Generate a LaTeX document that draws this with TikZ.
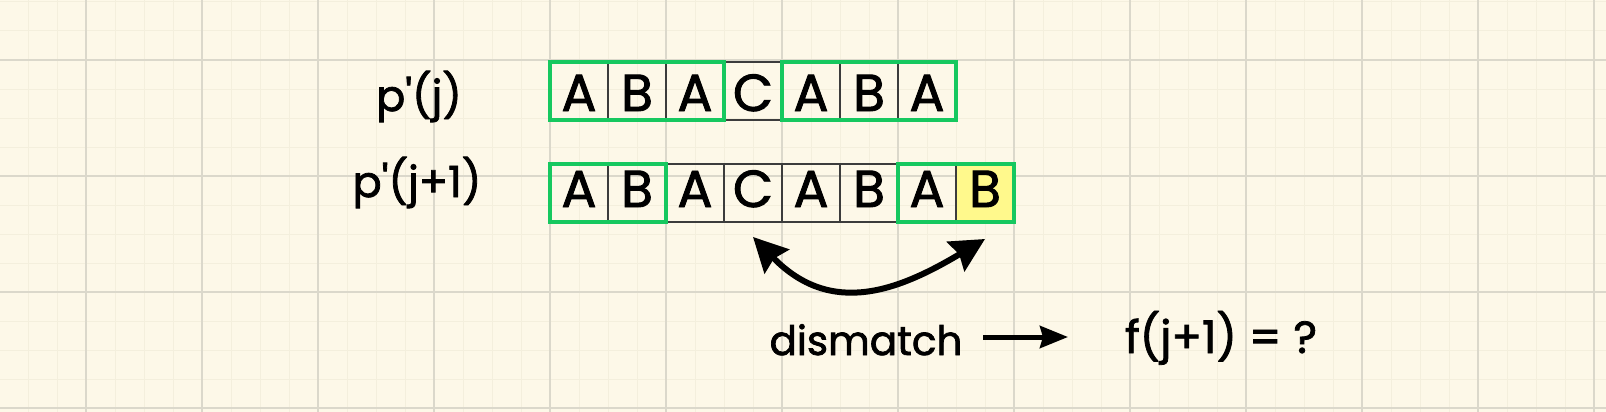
\documentclass[tikz,border=0pt]{standalone}
\usepackage{fontspec}
\setmainfont{Poppins}[FakeBold=1.8]
\usetikzlibrary{arrows.meta}
\definecolor{bgc}{RGB}{253,248,232}
\definecolor{majc}{RGB}{219,216,203}
\definecolor{minc}{RGB}{244,239,221}
\definecolor{grn}{RGB}{22,200,95}
\definecolor{cellc}{RGB}{60,60,60}
\definecolor{ylw}{RGB}{255,249,140}
\tikzset{
  cellbox/.style={draw=cellc,line width=2pt},
  grnbox/.style={draw=grn,line width=4.5pt},
  celltxt/.style={anchor=base,inner sep=0pt,font=\fontsize{52}{60}\selectfont},
  lbltxt/.style={anchor=base,inner sep=0pt,font=\fontsize{43}{50}\selectfont},
  dmtxt/.style={anchor=base,inner sep=0pt,font=\fontsize{40.5}{48}\selectfont},
  fqtxt/.style={anchor=base,inner sep=0pt,font=\fontsize{45}{52}\selectfont},
  arr/.style={line width=5pt,-{Stealth[length=28pt,width=22pt,inset=3pt]}},
  dblarr/.style={line width=6pt,{Stealth[length=34pt,width=34pt,inset=4pt]}-{Stealth[length=34pt,width=34pt,inset=4pt]}},
}
\begin{document}
\begin{tikzpicture}[x=1pt,y=-1pt]
\useasboundingbox (0,0) rectangle (1606,412);
\fill[bgc] (0,0) rectangle (1606,412);
% minor grid
\foreach \i in {0,...,55} {\draw[minc,line width=1pt] ({28+29*\i},0) -- ({28+29*\i},412);}
\foreach \i in {0,...,14} {\draw[minc,line width=1pt] (0,{2+29*\i}) -- (1606,{2+29*\i});}
% major grid
\foreach \i in {0,...,13} {\draw[majc,line width=1.3pt] ({86+116*\i},0) -- ({86+116*\i},412);}
\foreach \i in {0,...,3} {\draw[majc,line width=1.3pt] (0,{60+116*\i}) -- (1606,{60+116*\i});}
% labels
\node[lbltxt] (l1) at (419,111) {p\textquotesingle(j)};
\node[lbltxt] (l2) at (417,197) {p\textquotesingle(j+1)};
% top row
\foreach \ch [count=\k from 0] in {A,B,A,C,A,B,A} {
  \draw[cellbox] ({550+58*\k},62) rectangle ({608+58*\k},120);
  \node[celltxt] (t\k) at ({579+58*\k},111) {\ch};
}
% bottom row
\fill[ylw] (956,164) rectangle (1014,222);
\foreach \ch [count=\k from 0] in {A,B,A,C,A,B,A,B} {
  \draw[cellbox] ({550+58*\k},164) rectangle ({608+58*\k},222);
  \node[celltxt] (b\k) at ({579+58*\k},207) {\ch};
}
% green frames
\draw[grnbox] (550,62) rectangle (724,120);
\draw[grnbox] (782,62) rectangle (956,120);
\draw[grnbox] (550,164) rectangle (666,222);
\draw[grnbox] (898,164) rectangle (1014,222);
% double arrow
\coordinate (pL) at (753,237);
\coordinate (pR) at (985,239);
\draw[dblarr] (pL) .. controls (831,317) and (898,291) .. (pR);
% bottom text
\node[dmtxt] (dm) at (866,355) {dismatch};
\node[fqtxt] (fq) at (1221,353) {f(j+1) = ?};
\coordinate (a1) at (983,337);
\coordinate (a2) at (1068,337);
\draw[arr] (a1) -- (a2);
\end{tikzpicture}
\end{document}
